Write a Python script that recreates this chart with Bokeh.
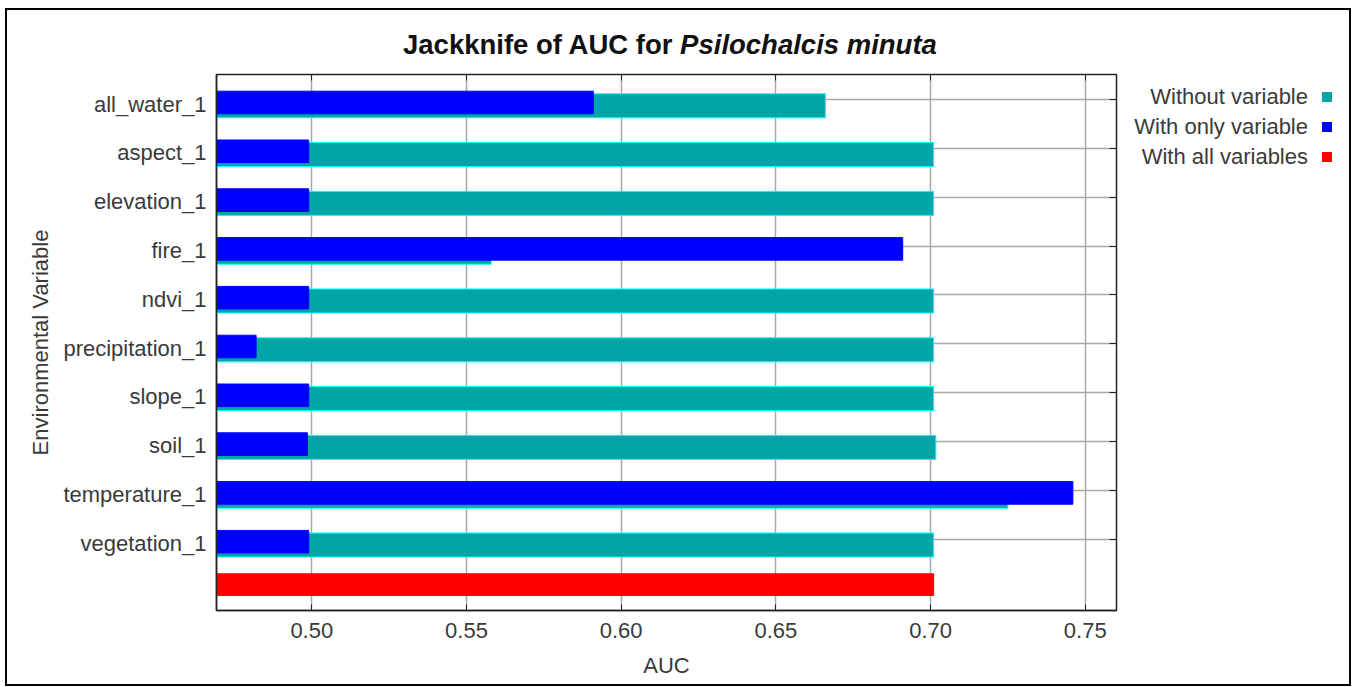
from bokeh.plotting import figure
from bokeh.layouts import column, row
from bokeh.models import (Range1d, FixedTicker, LinearAxis, NumeralTickFormatter,
                          ColumnDataSource, Div)
from bokeh.embed import file_html
from bokeh.resources import INLINE

variables = ["all_water_1", "aspect_1", "elevation_1", "fire_1", "ndvi_1",
             "precipitation_1", "slope_1", "soil_1", "temperature_1", "vegetation_1"]
without_variable = [0.666, 0.701, 0.701, 0.558, 0.701, 0.701, 0.701, 0.7017, 0.725, 0.701]
with_only_variable = [0.591, 0.499, 0.499, 0.691, 0.499, 0.482, 0.499, 0.4986, 0.746, 0.499]
with_all_variables = 0.701
x_ticks = [0.50, 0.55, 0.60, 0.65, 0.70, 0.75]
legend_names = ["Without variable", "With only variable", "With all variables"]

TEAL = "#00A5A5"
BLUE = "#0000FF"
RED = "#FF0000"
FONT = "Liberation Sans"
TXT = "#3a3a3a"
legend_colors = [TEAL, BLUE, RED]

n = len(variables)
rows = [-i for i in range(n)]

TOTAL_W = 1342
TITLE_H = 56
PW, PH = 1119, 618
ML, MR, MT, MB = 209, 10, 8, 74

p = figure(width=PW, height=PH, output_backend="svg", toolbar_location=None,
           x_range=Range1d(0.4692, 0.7601), y_range=Range1d(-10.465, 0.518),
           min_border_left=ML, min_border_right=MR, min_border_top=MT,
           min_border_bottom=MB, margin=0)
p.outline_line_color = "#222222"
p.outline_line_width = 1.5
p.background_fill_color = "white"

src_w = ColumnDataSource(dict(y=[r - 0.123 for r in rows], right=without_variable))
src_o = ColumnDataSource(dict(y=[r - 0.0555 for r in rows], right=with_only_variable))
p.hbar(y="y", left=0.0, right="right", height=0.492, source=src_w,
       fill_color=TEAL, line_color="#00FFFF", line_width=1)
p.hbar(y="y", left=0.0, right="right", height=0.463, source=src_o,
       fill_color=BLUE, line_color=BLUE, line_width=1)
p.hbar(y=[-n + 0.0645], left=0.0, right=[with_all_variables], height=0.445,
       fill_color=RED, line_color=RED)

# bottom axis
p.xaxis.ticker = FixedTicker(ticks=x_ticks)
p.xaxis.formatter = NumeralTickFormatter(format="0.00")
p.xaxis.axis_label = "AUC"
p.xaxis.major_tick_in = 6
p.xaxis.major_tick_out = 0
p.xaxis.minor_tick_line_color = None
p.xaxis.major_label_standoff = 12
p.xaxis.axis_label_standoff = 12

# left axis
p.yaxis.ticker = FixedTicker(ticks=[r - 0.09 for r in rows])
p.yaxis.major_label_overrides = {r - 0.09: v for r, v in zip(rows, variables)}
p.yaxis.axis_label = "Environmental Variable"
p.yaxis.minor_tick_line_color = None
p.yaxis.major_tick_in = 0
p.yaxis.major_tick_out = 0
p.yaxis.major_label_standoff = 10
p.yaxis.axis_label_standoff = 7

for ax in (p.xaxis[0], p.yaxis[0]):
    ax.axis_line_color = "#222222"
    ax.axis_line_width = 1.5
    ax.major_tick_line_color = "#222222"
    ax.major_label_text_font = FONT
    ax.major_label_text_font_size = "22px"
    ax.major_label_text_color = TXT
    ax.axis_label_text_font = FONT
    ax.axis_label_text_font_size = "22px"
    ax.axis_label_text_font_style = "normal"
    ax.axis_label_text_color = TXT
p.yaxis.major_tick_line_color = None

# top and right axes (tick marks only)
top = LinearAxis(ticker=FixedTicker(ticks=x_ticks), major_tick_in=6, major_tick_out=0,
                 minor_tick_line_color=None,
                 major_label_overrides={t: "" for t in x_ticks},
                 major_label_standoff=0, axis_line_color="#222222",
                 major_tick_line_color="#222222")
p.add_layout(top, "above")
right = LinearAxis(ticker=FixedTicker(ticks=rows), major_tick_in=7, major_tick_out=0,
                   minor_tick_line_color=None,
                   major_label_overrides={r: "" for r in rows},
                   major_label_standoff=0, axis_line_color="#222222",
                   major_tick_line_color="#222222")
p.add_layout(right, "right")

# grid
p.xgrid.ticker = FixedTicker(ticks=x_ticks)
p.ygrid.ticker = FixedTicker(ticks=rows)
p.xgrid.grid_line_color = "#a8a8a8"
p.ygrid.grid_line_color = "#a8a8a8"
p.xgrid.grid_line_width = 1.5
p.ygrid.grid_line_width = 1.5

# title (HTML so that part of it can be italic)
title_html = (
    f'<div style="position:absolute; left:396px; top:20px; white-space:nowrap; '
    f'font-family:\'{FONT}\'; font-size:27.5px; font-weight:bold; color:#111111; '
    f'line-height:30px;">Jackknife of AUC for <i>Psilochalcis minuta</i></div>'
)
title_div = Div(text=title_html, width=TOTAL_W, height=TITLE_H, margin=0)

# legend: text right-aligned, colour square to the right
LW = TOTAL_W - PW
parts = []
for k, (name, col) in enumerate(zip(legend_names, legend_colors)):
    yc = 31 + 30 * k
    parts.append(
        f'<div style="position:absolute; left:0px; top:{yc - 12}px; width:182px; '
        f'text-align:right; white-space:nowrap; font-family:\'{FONT}\'; font-size:22px; '
        f'line-height:24px; color:{TXT};">{name}</div>'
    )
    parts.append(
        f'<div style="position:absolute; left:196px; top:{yc - 5}px; width:10px; '
        f'height:10px; background:{col};"></div>'
    )
legend_div = Div(text="".join(parts), width=LW, height=PH, margin=0)

layout = column(title_div, row(p, legend_div, spacing=0, margin=0), spacing=0, margin=0,
                styles={"border": "2px solid black", "margin-left": "5px",
                        "margin-top": "8px", "background": "white"})

open("out.html", "w").write(file_html(layout, INLINE))
